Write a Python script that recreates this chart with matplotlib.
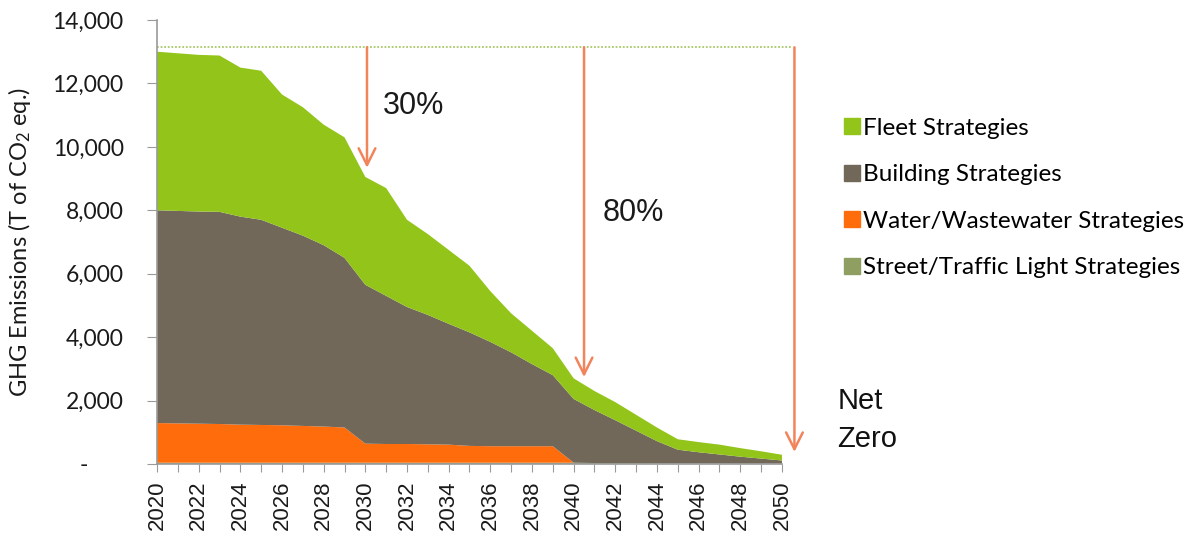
import numpy as np
import matplotlib
matplotlib.use('Agg')
import matplotlib.pyplot as plt
from matplotlib.lines import Line2D

years = list(range(2020, 2051))

# layer values (T of CO2 eq.)
street = [40] * 21 + [30, 30, 30, 20, 20, 20, 20, 10, 10, 10]
water = [1250, 1240, 1230, 1220, 1200, 1190, 1180, 1160, 1140, 1110,
         600, 590, 590, 580, 570, 530, 520, 520, 520, 520,
         0, 0, 0, 0, 0, 0, 0, 0, 0, 0, 0]
building = [6710, 6700, 6690, 6690, 6560, 6470, 6230, 6000, 5720, 5350,
            5010, 4670, 4320, 4080, 3810, 3580, 3290, 2960, 2590, 2240,
            2010, 1670, 1350, 1020, 700, 430, 350, 280, 220, 160, 100]
fleet = [5000, 4970, 4940, 4930, 4700, 4700, 4200, 4050, 3800, 3800,
         3400, 3400, 2750, 2550, 2330, 2100, 1600, 1230, 1050, 850,
         650, 600, 570, 500, 430, 330, 320, 310, 270, 230, 180]

labels = ['Fleet Strategies', 'Building Strategies',
          'Water/Wastewater Strategies', 'Street/Traffic Light Strategies']
colors = ['#92C41A', '#716859', '#FF6C0C', '#8F9F62']

baseline = 13140
arrow_x = [2030.08, 2040.5, 2050.6]
arrow_to = [9340, 2740, 380]
yticks = [0, 2000, 4000, 6000, 8000, 10000, 12000, 14000]
ytick_labels = ['-      ', '2,000', '4,000', '6,000', '8,000', '10,000', '12,000', '14,000']

plt.rcParams['font.family'] = ['Lato', 'DejaVu Sans']
plt.rcParams['mathtext.fontset'] = 'custom'
plt.rcParams['mathtext.rm'] = 'Lato'
plt.rcParams['mathtext.it'] = 'Lato:italic'

fig = plt.figure(figsize=(11.96, 5.39), dpi=100)
ax = fig.add_axes([0.1313, 0.1392, 0.5225, 0.8237])

ax.stackplot(years, street, water, building, fleet,
             colors=[colors[3], colors[2], colors[1], colors[0]], linewidth=0)

ax.set_xlim(2020, 2050)
ax.set_ylim(0, 14000)

for s in ['top', 'right']:
    ax.spines[s].set_visible(False)
for s in ['left', 'bottom']:
    ax.spines[s].set_color('#9a9a9a')
    ax.spines[s].set_linewidth(1.2)

ax.set_yticks(yticks)
ax.set_yticklabels(ytick_labels, fontsize=16.5, color='#1a1a1a')
ax.tick_params(axis='y', length=7, color='#9a9a9a', pad=17)
ax.set_xticks(years)
ax.set_xticklabels([str(y) if y % 2 == 0 else '' for y in years],
                   rotation=90, fontsize=16, family='Liberation Sans', color='#1a1a1a')
ax.tick_params(axis='x', length=6, color='#9a9a9a', pad=6)

ax.set_ylabel(r'GHG Emissions (T of CO$_2$ eq.)', fontsize=17, color='#1a1a1a')
ax.yaxis.set_label_coords(-0.198, 0.5)

# dotted baseline and reduction arrows
ax.hlines(baseline, 2020, 2050.5, colors='#A8C86A', linestyles=(0, (1, 1)),
          linewidth=1.3, clip_on=False)
for x, y in zip(arrow_x, arrow_to):
    ax.annotate('', xy=(x, y), xytext=(x, baseline),
                arrowprops=dict(arrowstyle='->', color='#F2845C', lw=1.8,
                                mutation_scale=30, shrinkA=0, shrinkB=0),
                annotation_clip=False)

ax.text(2030.85, 11290, '30%', fontsize=22, family='Liberation Sans',
        va='center', ha='left', color='#1a1a1a')
ax.text(2041.4, 7920, '80%', fontsize=22, family='Liberation Sans',
        va='center', ha='left', color='#1a1a1a')
ax.text(2052.65, 1380, 'Net\nZero', fontsize=21, family='Liberation Sans',
        va='center', ha='left', linespacing=1.45, color='#111111', clip_on=False)

handles = [Line2D([], [], marker='s', linestyle='none', markersize=11,
                  markerfacecolor=c, markeredgecolor=c) for c in colors]
fig.legend(handles, labels, loc='upper left', bbox_to_anchor=(0.697, 0.80),
           frameon=False, fontsize=17.5, handletextpad=0.05, labelspacing=1.05,
           handlelength=0.75, borderaxespad=0)

fig.savefig('out.png', dpi=100)
